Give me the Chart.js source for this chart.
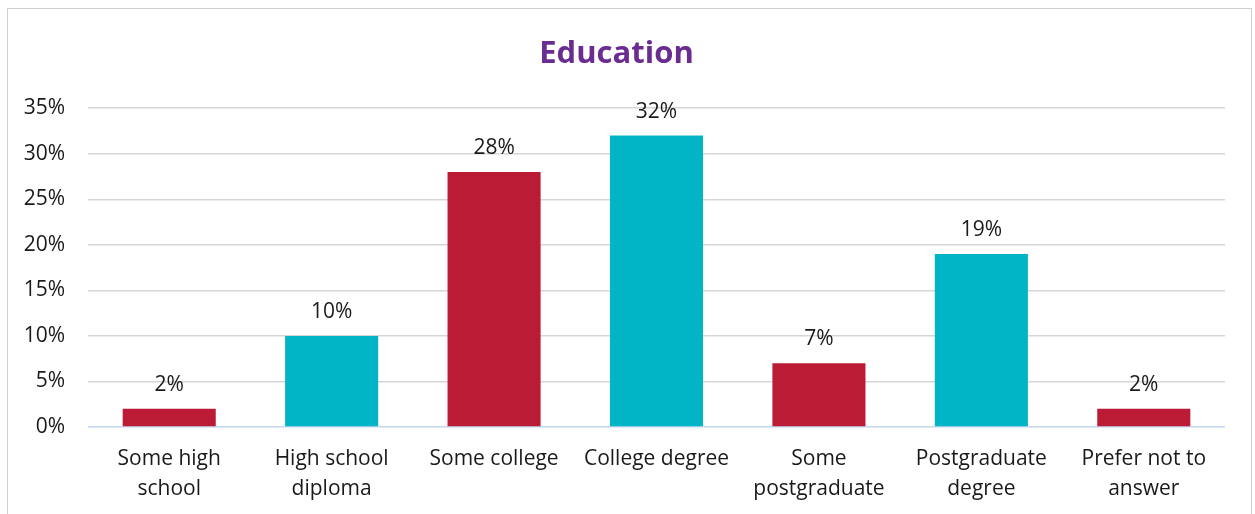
<!DOCTYPE html>
<html>
<head>
<meta charset="utf-8">
<script src="https://cdn.jsdelivr.net/npm/chart.js@4"></script>
<style>
  html, body { margin: 0; padding: 0; background: #fff; overflow: hidden; }
  #frame {
    position: absolute; left: 7px; top: 8px;
    width: 1243px; height: 520px;
    border: 1px solid #cfcfcf;
    background: #fff;
  }
  canvas { display: block; }
</style>
</head>
<body>
<div id="frame"><canvas id="chart" width="1243" height="510"></canvas></div>
<script>
// Education levels and share of respondents (%)
const categories = [
  ['Some high', 'school'],
  ['High school', 'diploma'],
  'Some college',
  'College degree',
  ['Some', 'postgraduate'],
  ['Postgraduate', 'degree'],
  ['Prefer not to', 'answer']
];
const shares = [2, 10, 28, 32, 7, 19, 2];
const yTicks = [0, 5, 10, 15, 20, 25, 30, 35];

const RED = '#bc1b36';
const TEAL = '#01b5c6';
const FONT = '"Open Sans", Lato, sans-serif';

// Writes each bar's percentage above it
const valueLabels = {
  id: 'valueLabels',
  afterDatasetsDraw(chart) {
    const ctx = chart.ctx;
    const meta = chart.getDatasetMeta(0);
    ctx.save();
    ctx.font = '21px ' + FONT;
    ctx.fillStyle = '#1a1a1a';
    ctx.textAlign = 'center';
    ctx.textBaseline = 'middle';
    meta.data.forEach((bar, i) => {
      ctx.fillText(shares[i] + '%', bar.x, bar.y - 24);
    });
    ctx.restore();
  }
};

new Chart(document.getElementById('chart'), {
  type: 'bar',
  data: {
    labels: categories,
    datasets: [{
      data: shares,
      backgroundColor: shares.map((_, i) => i % 2 === 0 ? RED : TEAL),
      borderWidth: 0,
      barPercentage: 0.573,
      categoryPercentage: 1
    }]
  },
  options: {
    responsive: false,
    animation: false,
    layout: { padding: { left: 0, right: 26, top: 0, bottom: 0 } },
    plugins: {
      legend: { display: false },
      tooltip: { enabled: false },
      title: {
        display: true,
        text: 'Education',
        color: '#6a2c91',
        font: { family: FONT, size: 31, weight: 'bold' },
        padding: { top: 27, bottom: 35 }
      }
    },
    scales: {
      x: {
        grid: { display: false },
        border: { display: false },
        ticks: {
          color: '#1a1a1a',
          padding: 9,
          maxRotation: 0,
          autoSkip: false,
          font: { family: FONT, size: 21, lineHeight: '30px' }
        },
        afterFit(scale) { scale.height = 92; }
      },
      y: {
        min: 0,
        max: 35,
        border: { display: false },
        grid: {
          drawTicks: false,
          lineWidth: 1.5,
          color: (c) => c.tick && c.tick.value === 0 ? '#c3d7ee' : '#d6d6d6'
        },
        afterBuildTicks(scale) {
          scale.ticks = yTicks.map(v => ({ value: v }));
        },
        ticks: {
          color: '#1a1a1a',
          padding: 23,
          font: { family: FONT, size: 21 },
          callback: (v) => v + '%'
        },
        afterFit(scale) { scale.width = 80; }
      }
    }
  },
  plugins: [valueLabels]
});
</script>
</body>
</html>
